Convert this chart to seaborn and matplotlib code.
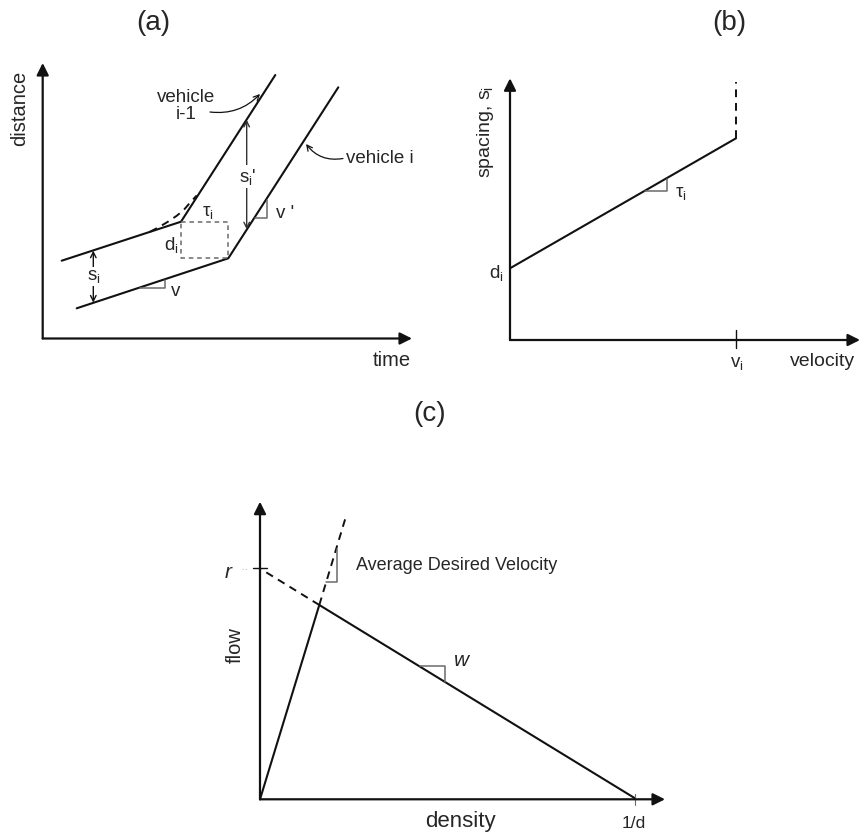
import matplotlib
matplotlib.use("Agg")
import matplotlib.pyplot as plt
import seaborn as sns
import pandas as pd

sns.set_theme(style="white")
plt.rcParams['font.family'] = ['Liberation Sans', 'DejaVu Sans']
plt.rcParams['mathtext.fontset'] = 'custom'
plt.rcParams['mathtext.rm'] = 'Liberation Sans'
plt.rcParams['mathtext.it'] = 'Liberation Sans:italic'

# ---------------- data (schematic coordinates, canvas units) ----------------
# panel (a): trajectories
veh_prev_t = [61.7, 181.0, 275.3]
veh_prev_d = [260.7, 221.7, 75.0]
veh_i_t = [76.7, 228.3, 338.3]
veh_i_d = [308.3, 258.3, 87.3]
smooth_t = [150.0, 160.0, 168.3, 176.7, 184.0, 190.0, 196.7]
smooth_d = [231.8, 226.5, 221.5, 215.8, 209.7, 202.7, 195.5]
a_origin = (42.7, 338.5)
a_ytip = (42.7, 63.0)
a_xtip = (412.0, 338.5)
box_t = [181.0, 228.3]
box_d = [221.7, 258.3]

# panel (b): spacing vs velocity
b_vel = [510.0, 736.0]
b_spc = [268.3, 138.3]
b_free = [138.3, 81.7]
b_origin = (510.0, 340.0)
b_ytip = (510.0, 78.3)
b_xtip = (860.0, 340.0)

# panel (c): fundamental diagram
c_dens = [260.0, 319.3, 635.0]
c_flow = [799.3, 605.0, 798.3]
c_cong_ext_dens = [319.3, 260.0]
c_cong_ext_flow = [605.0, 568.5]
c_free_ext_dens = [319.3, 346.7]
c_free_ext_flow = [605.0, 514.0]
c_origin = (260.0, 799.3)
c_ytip = (260.0, 501.7)
c_xtip = (665.0, 799.3)

INK = '#111111'
GREY = '#6a6a6a'

fig = plt.figure(figsize=(8.61, 8.34), dpi=100)
ax = fig.add_axes([0, 0, 1, 1])
ax.set_xlim(0, 861)
ax.set_ylim(834, 0)
ax.axis('off')


def solid(x, y, lw=1.5, color=INK):
    df = pd.DataFrame({'x': x, 'y': y})
    sns.lineplot(data=df, x='x', y='y', sort=False, estimator=None, ax=ax,
                 color=color, lw=lw, legend=False)


def axis_arrow(origin, tip):
    ax.annotate('', xy=tip, xytext=origin,
                arrowprops=dict(arrowstyle='-|>', lw=1.6, color=INK,
                                mutation_scale=18, shrinkA=0, shrinkB=0))


# ---------------- panel (a) ----------------
axis_arrow(a_origin, a_ytip)
axis_arrow(a_origin, a_xtip)
solid(veh_prev_t, veh_prev_d)
solid(veh_i_t, veh_i_d)
ax.plot(smooth_t, smooth_d, color=INK, lw=1.4, ls=(0, (4, 3)))
ax.plot([box_t[0], box_t[1], box_t[1], box_t[0], box_t[0]],
        [box_d[0], box_d[0], box_d[1], box_d[1], box_d[0]],
        color=GREY, lw=1.1, ls=(0, (3, 2.5)))
# slope triangles
ax.plot([140, 165, 165], [288.3, 288.3, 279.5], color=GREY, lw=1.1)
ax.plot([255.3, 266.7, 266.7], [217.7, 217.7, 199.5], color=GREY, lw=1.1)
# spacing arrows
ax.annotate('', xy=(93.3, 250.6), xytext=(93.3, 302.6),
            arrowprops=dict(arrowstyle='<->', lw=1.0, color=INK,
                            mutation_scale=10, shrinkA=0, shrinkB=0))
ax.annotate('', xy=(246.7, 119.8), xytext=(246.7, 229.4),
            arrowprops=dict(arrowstyle='<->', lw=1.0, color='#333333',
                            mutation_scale=10, shrinkA=0, shrinkB=0))
wb = dict(facecolor='white', edgecolor='none', pad=1.0)
ax.text(93.5, 276.5, r'$\mathregular{s_i}$', fontsize=13.5, ha='center',
        va='center', bbox=wb)
ax.text(248, 176.5, r"$\mathregular{s_i}$'", fontsize=13.5, ha='center',
        va='center', bbox=wb)
ax.text(171.5, 245, r'$\mathregular{d_i}$', fontsize=13.5, ha='center', va='center')
ax.text(208, 212.5, r'$\mathregular{\tau_i}$', fontsize=13.5, ha='center', va='center')
ax.text(176, 291.5, 'v', fontsize=13.5, ha='center', va='center')
ax.text(285, 213, "v '", fontsize=13.5, ha='center', va='center')
ax.text(186, 106, 'vehicle\ni-1', fontsize=13.5, ha='center', va='center',
        linespacing=1.0)
ax.annotate('', xy=(260, 94), xytext=(210, 112),
            arrowprops=dict(arrowstyle='->', lw=0.9, color=INK,
                            connectionstyle='arc3,rad=0.25',
                            mutation_scale=10, shrinkA=0, shrinkB=0))
ax.text(346, 158.5, 'vehicle i', fontsize=13.5, ha='left', va='center')
ax.annotate('', xy=(306, 144), xytext=(343, 158.5),
            arrowprops=dict(arrowstyle='->', lw=0.9, color=INK,
                            connectionstyle='arc3,rad=-0.3',
                            mutation_scale=10, shrinkA=0, shrinkB=0))
ax.text(20, 108, 'distance', fontsize=14.5, rotation=90, ha='center', va='center')
ax.text(392, 360, 'time', fontsize=14.5, ha='center', va='center')
ax.text(153, 23, '(a)', fontsize=20, ha='center', va='center')

# ---------------- panel (b) ----------------
axis_arrow(b_origin, b_ytip)
axis_arrow(b_origin, b_xtip)
solid(b_vel, b_spc)
ax.plot([b_vel[1], b_vel[1]], b_free, color=INK, lw=1.4, ls=(0, (4, 3)))
ax.plot([736, 736], [330, 348], color=INK, lw=1.0)
ax.plot([645, 666.7, 666.7], [191.2, 191.2, 178.5], color=GREY, lw=1.1)
ax.text(681, 193, r'$\mathregular{\tau_i}$', fontsize=13.5, ha='center', va='center')
ax.text(504, 273, r'$\mathregular{d_i}$', fontsize=13.5, ha='right', va='center')
ax.text(736.5, 363, r'$\mathregular{v_i}$', fontsize=13.5, ha='center', va='center')
ax.text(823, 361.5, 'velocity', fontsize=14, ha='center', va='center')
ax.text(485, 132, r'spacing, $\mathregular{s_i}$', fontsize=14, rotation=90,
        ha='center', va='center')
ax.text(729, 23, '(b)', fontsize=20, ha='center', va='center')

# ---------------- panel (c) ----------------
axis_arrow(c_origin, c_ytip)
axis_arrow(c_origin, c_xtip)
solid(c_dens, c_flow)
ax.plot(c_cong_ext_dens, c_cong_ext_flow, color=INK, lw=1.4, ls=(0, (4, 3)))
ax.plot(c_free_ext_dens, c_free_ext_flow, color=INK, lw=1.4, ls=(0, (4, 3)))
ax.plot([253.3, 266.7], [568.3, 568.3], color=INK, lw=1.0)
ax.plot([242, 248], [569, 569], color='#bbbbbb', lw=0.8, ls=(0, (1, 2)))
ax.plot([635, 635], [794, 805], color=GREY, lw=0.8)
ax.plot([325.7, 336.7, 336.7], [581.7, 581.7, 549.0], color=GREY, lw=1.1)
ax.plot([420, 445, 445], [666.0, 666.0, 681.5], color=GREY, lw=1.1)
ax.text(228, 573, 'r', fontsize=15, fontstyle='italic', ha='center', va='center')
ax.text(356.5, 565, 'Average Desired Velocity', fontsize=13, ha='left', va='center')
ax.text(462, 661, 'w', fontsize=15, fontstyle='italic', ha='center', va='center')
ax.text(235, 645, 'flow', fontsize=14.5, rotation=90, ha='center', va='center')
ax.text(460, 821.5, 'density', fontsize=16, ha='center', va='center')
ax.text(633.5, 823, '1/d', fontsize=12.5, ha='center', va='center')
ax.text(430, 414, '(c)', fontsize=20, ha='center', va='center')

fig.savefig('out.png', dpi=100, facecolor='white')
